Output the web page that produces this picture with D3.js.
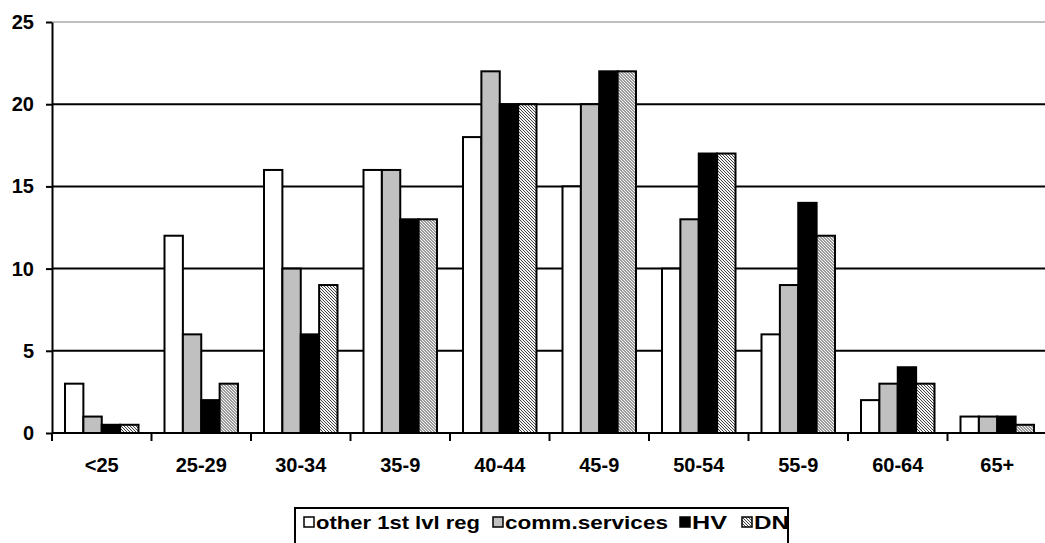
<!DOCTYPE html>
<html>
<head>
<meta charset="utf-8">
<script src="https://cdn.jsdelivr.net/npm/d3@7"></script>
<style>
  html, body { margin: 0; padding: 0; background: #fff; }
  svg { display: block; }
  text { font-family: "Liberation Sans", Arial, sans-serif; font-weight: bold; fill: #000; }
</style>
</head>
<body>
<svg id="chart" width="1045" height="543"></svg>
<script>
// Age bands along the x axis
const categories = ["<25", "25-29", "30-34", "35-9", "40-44", "45-9", "50-54", "55-9", "60-64", "65+"];

// Series names and their values per age band
const seriesNames = ["other 1st lvl reg", "comm.services", "HV", "DN"];
const otherRegValues = [3, 12, 16, 16, 18, 15, 10, 6, 2, 1];
const commServicesValues = [1, 6, 10, 16, 22, 20, 13, 9, 3, 1];
const hvValues = [0.5, 2, 6, 13, 20, 22, 17, 14, 4, 1];
const dnValues = [0.5, 3, 9, 13, 20, 22, 17, 12, 3, 0.5];

const yTicks = [0, 5, 10, 15, 20, 25];

const seriesValues = [otherRegValues, commServicesValues, hvValues, dnValues];

const svg = d3.select("#chart");
const W = 1045;
const FONT = "'Liberation Sans', Arial, sans-serif";

// fine diagonal hatch used for DN
const defs = svg.append("defs");
const pat = defs.append("pattern")
  .attr("id", "hatch")
  .attr("patternUnits", "userSpaceOnUse")
  .attr("width", 3).attr("height", 3);
pat.append("rect").attr("width", 3).attr("height", 3).attr("fill", "#f4f4f4");
[[0, 0], [1, 1], [2, 2]].forEach(([px, py]) =>
  pat.append("rect").attr("x", px).attr("y", py).attr("width", 1).attr("height", 1).attr("fill", "#444"));

const fills = ["#ffffff", "#c0c0c0", "#000000", "url(#hatch)"];

const plot = { left: 52, right: 1047, top: 22, bottom: 433 };

const x0 = d3.scaleBand().domain(categories).range([plot.left, plot.right]).padding(0);
const x1 = d3.scaleBand().domain(seriesNames).range([13, x0.bandwidth() - 13]).padding(0);
const y = d3.scaleLinear().domain([0, 25]).range([plot.bottom, plot.top]);

// horizontal gridlines
svg.append("g").selectAll("line")
  .data(yTicks.filter(t => t > 0))
  .join("line")
  .attr("x1", plot.left).attr("x2", W)
  .attr("y1", d => y(d)).attr("y2", d => y(d))
  .attr("stroke", d => d === 25 ? "#c0c0c0" : "#000")
  .attr("stroke-width", 2);

// bars
const groups = svg.append("g").selectAll("g")
  .data(categories)
  .join("g")
  .attr("transform", d => `translate(${x0(d)},0)`);

groups.selectAll("rect")
  .data((c, i) => seriesNames.map((s, j) => ({ s, j, v: seriesValues[j][i] })))
  .join("rect")
  .attr("x", d => x1(d.s))
  .attr("width", x1.bandwidth())
  .attr("y", d => y(d.v))
  .attr("height", d => y(0) - y(d.v))
  .attr("fill", d => fills[d.j])
  .attr("stroke", "#000")
  .attr("stroke-width", 2);

// y axis
const yAxis = svg.append("g")
  .attr("transform", `translate(${plot.left},0)`)
  .call(d3.axisLeft(y).tickValues(yTicks).tickSize(6).tickPadding(12).tickSizeOuter(0));
yAxis.select(".domain").attr("stroke", "#000").attr("stroke-width", 2);
yAxis.selectAll(".tick line").attr("stroke", "#000").attr("stroke-width", 2);
yAxis.selectAll(".tick text").style("font-size", "20px").style("font-family", FONT).style("font-weight", "bold").attr("fill", "#000");

// x axis
const xAxis = svg.append("g")
  .attr("transform", `translate(0,${plot.bottom})`)
  .call(d3.axisBottom(x0).tickSize(0).tickPadding(25).tickSizeOuter(0));
xAxis.select(".domain").remove();
xAxis.selectAll(".tick text").style("font-size", "20px").style("font-family", FONT).style("font-weight", "bold").attr("fill", "#000");
svg.append("line")
  .attr("x1", plot.left).attr("x2", W)
  .attr("y1", plot.bottom).attr("y2", plot.bottom)
  .attr("stroke", "#000").attr("stroke-width", 2);
svg.append("g").selectAll("line")
  .data(categories)
  .join("line")
  .attr("x1", d => x0(d)).attr("x2", d => x0(d))
  .attr("y1", plot.bottom).attr("y2", plot.bottom + 8)
  .attr("stroke", "#000").attr("stroke-width", 2);

// legend
const legend = svg.append("g");
legend.append("rect")
  .attr("x", 295).attr("y", 508).attr("width", 493).attr("height", 50)
  .attr("fill", "#fff").attr("stroke", "#000").attr("stroke-width", 2);
const legendX = [304, 493, 680, 742];
const legendTextW = [164, 163, 35, 35];
seriesNames.forEach((s, j) => {
  legend.append("rect")
    .attr("x", legendX[j]).attr("y", 517).attr("width", 10).attr("height", 10)
    .attr("fill", fills[j]).attr("stroke", "#000").attr("stroke-width", 1.5);
  legend.append("text")
    .attr("x", legendX[j] + 12).attr("y", 529)
    .attr("textLength", legendTextW[j])
    .attr("lengthAdjust", "spacingAndGlyphs")
    .style("font-size", "18px")
    .text(s);
});
</script>
</body>
</html>
